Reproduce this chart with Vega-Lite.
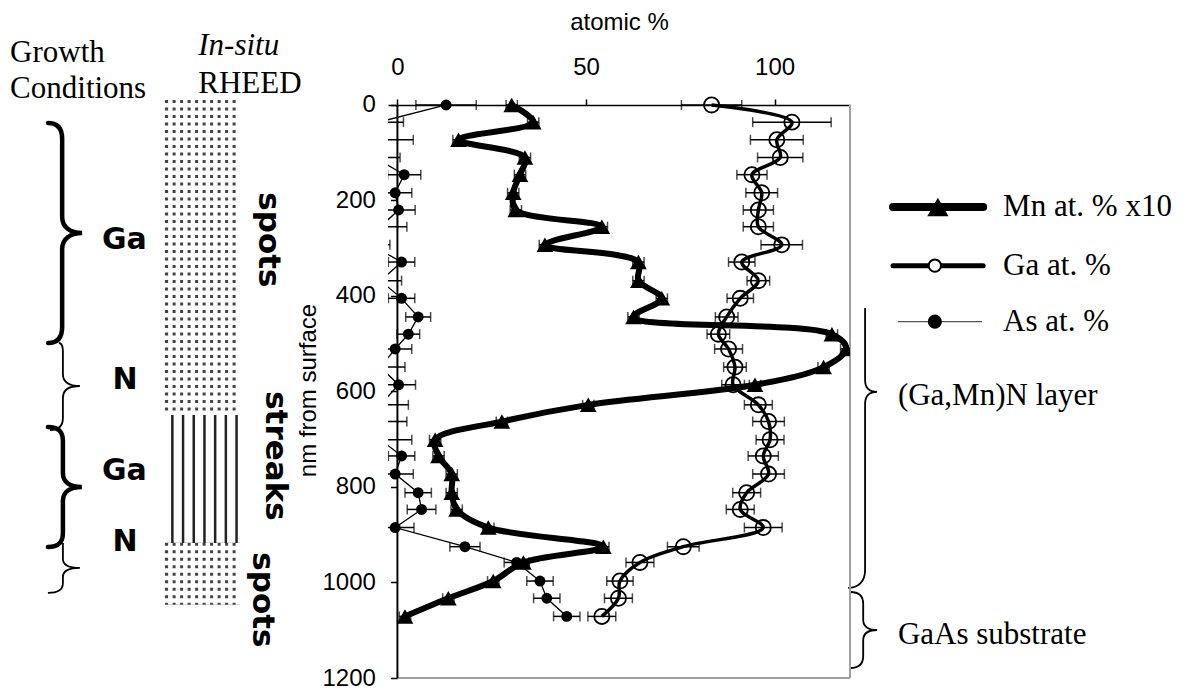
{
  "$schema": "https://vega.github.io/schema/vega-lite/v6.json",
  "width": 462,
  "height": 585,
  "autosize": "none",
  "padding": {"left": 388, "top": 93, "right": 339, "bottom": 17},
  "background": "white",
  "config": {"view": {"stroke": null}},
  "data": {"values": [{}]},
  "datasets": {
    "mn": [
      {"depth": 0, "value": 30.3, "err": 1.5}, {"depth": 36, "value": 36.0, "err": 1.5}, {"depth": 73, "value": 16.2, "err": 1.5},
      {"depth": 110, "value": 33.8, "err": 1.5}, {"depth": 146, "value": 32.5, "err": 1.5}, {"depth": 184, "value": 30.7, "err": 1.5},
      {"depth": 220, "value": 31.4, "err": 1.5}, {"depth": 255, "value": 54.2, "err": 1.5}, {"depth": 293, "value": 39.1, "err": 1.5},
      {"depth": 329, "value": 63.9, "err": 1.5}, {"depth": 368, "value": 63.9, "err": 1.5}, {"depth": 405, "value": 70.1, "err": 1.5},
      {"depth": 444, "value": 62.6, "err": 1.5}, {"depth": 480, "value": 115.2, "err": 1.5}, {"depth": 511, "value": 119, "err": 1.5},
      {"depth": 549, "value": 113, "err": 1.5}, {"depth": 586, "value": 94.8, "err": 1.5}, {"depth": 628, "value": 50.6, "err": 1.5},
      {"depth": 663, "value": 27.7, "err": 1.5}, {"depth": 701, "value": 10.0, "err": 1.5}, {"depth": 735, "value": 10.9, "err": 1.5},
      {"depth": 773, "value": 14.4, "err": 1.5}, {"depth": 812, "value": 14.4, "err": 1.5}, {"depth": 847, "value": 15.7, "err": 1.5},
      {"depth": 885, "value": 24.1, "err": 1.5}, {"depth": 925, "value": 54.6, "err": 1.5}, {"depth": 958, "value": 33.4, "err": 1.5},
      {"depth": 997, "value": 25.4, "err": 1.5}, {"depth": 1033, "value": 13.5, "err": 1.5}, {"depth": 1071, "value": 2.0, "err": 1.5}
    ],
    "ga": [
      {"depth": 0, "value": 83.3, "err": 8}, {"depth": 36, "value": 104.6, "err": 10.4}, {"depth": 73, "value": 100.6, "err": 7},
      {"depth": 110, "value": 101.5, "err": 6}, {"depth": 146, "value": 94, "err": 4}, {"depth": 184, "value": 96.6, "err": 4.2},
      {"depth": 220, "value": 95.7, "err": 4}, {"depth": 255, "value": 95.7, "err": 4}, {"depth": 293, "value": 101.9, "err": 5.5},
      {"depth": 329, "value": 91.3, "err": 3.5}, {"depth": 368, "value": 95.7, "err": 3}, {"depth": 405, "value": 90.9, "err": 3.5},
      {"depth": 444, "value": 87.3, "err": 3}, {"depth": 480, "value": 85.1, "err": 3}, {"depth": 511, "value": 87.8, "err": 3.7},
      {"depth": 549, "value": 89.5, "err": 3}, {"depth": 586, "value": 89, "err": 3}, {"depth": 628, "value": 95.7, "err": 3.7},
      {"depth": 663, "value": 98.4, "err": 4.2}, {"depth": 701, "value": 98.8, "err": 3.7}, {"depth": 735, "value": 97, "err": 4},
      {"depth": 773, "value": 98.4, "err": 4.2}, {"depth": 812, "value": 92.6, "err": 3.7}, {"depth": 847, "value": 90.9, "err": 3.7},
      {"depth": 885, "value": 97, "err": 5}, {"depth": 925, "value": 75.8, "err": 4.2}, {"depth": 958, "value": 64.3, "err": 3.7},
      {"depth": 997, "value": 59, "err": 3.5}, {"depth": 1033, "value": 58.6, "err": 3.7}, {"depth": 1071, "value": 54.2, "err": 3.7}
    ],
    "as": [
      {"depth": 0, "value": 12.9, "err": 8}, {"depth": 36, "value": -5, "err": 6.6}, {"depth": 73, "value": -4.5, "err": 8.7},
      {"depth": 110, "value": -6, "err": 6.7}, {"depth": 146, "value": 1.8, "err": 4.4}, {"depth": 184, "value": -0.6, "err": 4.4},
      {"depth": 220, "value": 0.3, "err": 4.4}, {"depth": 255, "value": -4.5, "err": 7}, {"depth": 293, "value": -7, "err": 5},
      {"depth": 329, "value": 1.1, "err": 3.5}, {"depth": 368, "value": -4.5, "err": 5.6}, {"depth": 405, "value": 1.1, "err": 3.5},
      {"depth": 444, "value": 5.5, "err": 3.3}, {"depth": 480, "value": 2.9, "err": 3}, {"depth": 511, "value": -0.6, "err": 4.4},
      {"depth": 549, "value": -4.5, "err": 6.5}, {"depth": 586, "value": 0.3, "err": 4.5}, {"depth": 628, "value": -4.5, "err": 7.4},
      {"depth": 663, "value": -5, "err": 7.5}, {"depth": 701, "value": -4.5, "err": 8.3}, {"depth": 735, "value": 1.1, "err": 3.5},
      {"depth": 773, "value": -0.6, "err": 4.8}, {"depth": 812, "value": 5.5, "err": 3.5}, {"depth": 847, "value": 6.4, "err": 3.8},
      {"depth": 885, "value": -0.6, "err": 5}, {"depth": 925, "value": 17.9, "err": 4}, {"depth": 958, "value": 31.6, "err": 3.3},
      {"depth": 997, "value": 37.8, "err": 3.5}, {"depth": 1033, "value": 39.6, "err": 3.5}, {"depth": 1071, "value": 44.9, "err": 3.5}
    ]
  },
  "layer": [
    {"data": {"name": "as"}, "mark": {"type": "errorbar", "ticks": true, "size": 10, "thickness": 1.5, "color": "black", "clip": true},
     "encoding": {
       "x": {"field": "value", "type": "quantitative", "title": "atomic %",
         "scale": {"domain": [-2.5, 120], "nice": false, "zero": false},
         "axis": {"orient": "top", "values": [0, 50, 100], "title": "atomic %", "offset": -12,
           "domainColor": "black", "domainWidth": 1.5, "tickColor": "black", "tickWidth": 1.5, "tickSize": 6,
           "labelFont": "Liberation Sans", "labelFontSize": 24, "labelColor": "black", "labelPadding": 20, "labelFlush": false,
           "titleFont": "Liberation Sans", "titleFontSize": 24, "titleFontWeight": "normal", "titleColor": "black", "titlePadding": 21, "grid": false}},
       "xError": {"field": "err"},
       "y": {"field": "depth", "type": "quantitative", "title": "nm from surface",
         "scale": {"domain": [-25, 1200], "reverse": true, "nice": false, "zero": false},
         "axis": {"orient": "left", "values": [0, 200, 400, 600, 800, 1000, 1200], "format": "d", "title": "nm from surface", "offset": -9.4,
           "domain": false, "tickColor": "black", "tickWidth": 1.5, "tickSize": 7,
           "labelFont": "Liberation Sans", "labelFontSize": 24, "labelColor": "black", "labelPadding": 15,
           "titleFont": "Liberation Sans", "titleFontSize": 24, "titleFontWeight": "normal", "titleColor": "black", "titlePadding": 2, "titleY": 297, "grid": false}}
     }},

    {"mark": {"type": "rule", "color": "#444444", "strokeWidth": 75, "strokeDash": [3, 4.5]},
     "encoding": {"x": {"datum": -51.7}, "y": {"datum": -10.5}, "y2": {"datum": 649.2}}},
    {"mark": {"type": "rule", "color": "white", "strokeWidth": 315, "strokeDash": [4.5, 3], "strokeDashOffset": 4.5},
     "encoding": {"x": {"datum": -61.6}, "x2": {"datum": -41.7}, "y": {"datum": 319.4}}},
    {"mark": {"type": "rule", "color": "#444444", "strokeWidth": 75, "strokeDash": [3, 4.5]},
     "encoding": {"x": {"datum": -51.7}, "y": {"datum": 917}, "y2": {"datum": 1046.8}}},
    {"mark": {"type": "rule", "color": "white", "strokeWidth": 62, "strokeDash": [4.5, 3], "strokeDashOffset": 4.5},
     "encoding": {"x": {"datum": -61.6}, "x2": {"datum": -41.7}, "y": {"datum": 981.9}}},
    {"mark": {"type": "rule", "color": "#222222", "strokeWidth": 128, "strokeDash": [2.5, 8.2], "strokeDashOffset": 4.7},
     "encoding": {"x": {"datum": -61.6}, "x2": {"datum": -41.7}, "y": {"datum": 783.2}}},

    {"mark": {"type": "point", "shape": "M -14 -110 C -4 -110 0 -104 0 -94 L 0 -16 C 0 -6 8 0 20 0 C 8 0 0 6 0 16 L 0 94 C 0 104 -4 110 -14 110", "size": 4, "filled": false, "stroke": "black", "strokeWidth": 4.5, "opacity": 1, "strokeCap": "round"},
     "encoding": {"x": {"datum": -88.9}, "y": {"datum": 268}}},
    {"mark": {"type": "point", "shape": "M -4 -43 C -1 -43 0 -40 0 -34 L 0 -12 C 0 -4 6 0 17 0 C 6 0 0 4 0 12 L 0 32 C 0 40 -4 44 -13 44", "size": 4, "filled": false, "stroke": "black", "strokeWidth": 1.8, "opacity": 1},
     "encoding": {"x": {"datum": -88.7}, "y": {"datum": 588.5}}},
    {"mark": {"type": "point", "shape": "M -15 -60 C -4 -60 0 -55 0 -46 L 0 -14 C 0 -5 7 0 19 0 C 7 0 0 5 0 14 L 0 46 C 0 55 -4 60 -15 60", "size": 4, "filled": false, "stroke": "black", "strokeWidth": 4.5, "opacity": 1, "strokeCap": "round"},
     "encoding": {"x": {"datum": -88.7}, "y": {"datum": 800}}},
    {"mark": {"type": "point", "shape": "M 0 -25 L 0 -9 C 0 -3 6 0 17 0 C 6 0 0 3 0 9 L 0 15 C 0 22 -5 25 -15 25", "size": 4, "filled": false, "stroke": "black", "strokeWidth": 1.8, "opacity": 1},
     "encoding": {"x": {"datum": -88.7}, "y": {"datum": 969.6}}},
    {"mark": {"type": "point", "shape": "M 0 -84 L 0 -12 C 0 -4 4 0 12 0 C 4 0 0 4 0 12 L 0 178 C 0 190 -7 196 -17 196", "size": 4, "filled": false, "stroke": "black", "strokeWidth": 1.8, "opacity": 1},
     "encoding": {"x": {"datum": 124.0}, "y": {"datum": 601}}},
    {"mark": {"type": "point", "shape": "M -13 -38 C -4 -38 0 -34 0 -26 L 0 -10 C 0 -3 6 0 14 0 C 6 0 0 3 0 10 L 0 26 C 0 34 -4 38 -13 38", "size": 4, "filled": false, "stroke": "black", "strokeWidth": 1.8, "opacity": 1},
     "encoding": {"x": {"datum": 123.5}, "y": {"datum": 1099.5}}},

    {"mark": {"type": "text", "text": "Growth", "font": "Liberation Serif", "fontSize": 31, "align": "left", "baseline": "alphabetic", "color": "black"},
     "encoding": {"x": {"datum": -102.7}, "y": {"datum": -90}}},
    {"mark": {"type": "text", "text": "Conditions", "font": "Liberation Serif", "fontSize": 31, "align": "left", "baseline": "alphabetic", "color": "black"},
     "encoding": {"x": {"datum": -102.7}, "y": {"datum": -14.7}}},
    {"mark": {"type": "text", "text": "In-situ", "font": "Liberation Serif", "fontStyle": "italic", "fontSize": 31, "align": "left", "baseline": "alphabetic", "color": "black"},
     "encoding": {"x": {"datum": -52.8}, "y": {"datum": -104.7}}},
    {"mark": {"type": "text", "text": "RHEED", "font": "Liberation Serif", "fontSize": 31, "align": "left", "baseline": "alphabetic", "color": "black"},
     "encoding": {"x": {"datum": -52.8}, "y": {"datum": -25.1}}},
    {"mark": {"type": "text", "text": "Ga", "font": "DejaVu Sans", "fontWeight": "bold", "fontSize": 30, "align": "center", "baseline": "middle", "color": "black"},
     "encoding": {"x": {"datum": -72.4}, "y": {"datum": 282.7}}},
    {"mark": {"type": "text", "text": "N", "font": "DejaVu Sans", "fontWeight": "bold", "fontSize": 30, "align": "center", "baseline": "middle", "color": "black"},
     "encoding": {"x": {"datum": -72.2}, "y": {"datum": 576}}},
    {"mark": {"type": "text", "text": "Ga", "font": "DejaVu Sans", "fontWeight": "bold", "fontSize": 30, "align": "center", "baseline": "middle", "color": "black"},
     "encoding": {"x": {"datum": -72.4}, "y": {"datum": 766.5}}},
    {"mark": {"type": "text", "text": "N", "font": "DejaVu Sans", "fontWeight": "bold", "fontSize": 30, "align": "center", "baseline": "middle", "color": "black"},
     "encoding": {"x": {"datum": -72.2}, "y": {"datum": 915}}},
    {"mark": {"type": "text", "text": "spots", "font": "DejaVu Sans", "fontWeight": "bold", "fontSize": 31, "angle": 90, "align": "center", "baseline": "middle", "color": "black"},
     "encoding": {"x": {"datum": -34.3}, "y": {"datum": 282.7}}},
    {"mark": {"type": "text", "text": "streaks", "font": "DejaVu Sans", "fontWeight": "bold", "fontSize": 31, "angle": 90, "align": "center", "baseline": "middle", "color": "black"},
     "encoding": {"x": {"datum": -32.5}, "y": {"datum": 735}}},
    {"mark": {"type": "text", "text": "spots", "font": "DejaVu Sans", "fontWeight": "bold", "fontSize": 31, "angle": 90, "align": "center", "baseline": "middle", "color": "black"},
     "encoding": {"x": {"datum": -35.9}, "y": {"datum": 1036.6}}},

    {"mark": {"type": "text", "text": "(Ga,Mn)N layer", "font": "Liberation Serif", "fontSize": 31, "align": "left", "baseline": "middle", "color": "black"},
     "encoding": {"x": {"datum": 132.7}, "y": {"datum": 610}}},
    {"mark": {"type": "text", "text": "GaAs substrate", "font": "Liberation Serif", "fontSize": 31, "align": "left", "baseline": "middle", "color": "black"},
     "encoding": {"x": {"datum": 132.7}, "y": {"datum": 1110}}},

    {"mark": {"type": "rule", "color": "black", "strokeWidth": 8, "strokeCap": "round"},
     "encoding": {"x": {"datum": 131.4}, "x2": {"datum": 155.3}, "y": {"datum": 213.6}}},
    {"mark": {"type": "point", "shape": "triangle-up", "size": 450, "filled": true, "color": "black", "opacity": 1},
     "encoding": {"x": {"datum": 143.3}, "y": {"datum": 213.6}}},
    {"mark": {"type": "text", "text": "Mn at. % x10", "font": "Liberation Serif", "fontSize": 31, "align": "left", "baseline": "middle", "color": "black"},
     "encoding": {"x": {"datum": 160.6}, "y": {"datum": 213.6}}},
    {"mark": {"type": "rule", "color": "black", "strokeWidth": 5, "strokeCap": "round"},
     "encoding": {"x": {"datum": 131.4}, "x2": {"datum": 155.3}, "y": {"datum": 336.5}}},
    {"mark": {"type": "point", "shape": "circle", "size": 150, "filled": true, "fill": "white", "stroke": "black", "strokeWidth": 2, "opacity": 1},
     "encoding": {"x": {"datum": 142.5}, "y": {"datum": 336.5}}},
    {"mark": {"type": "text", "text": "Ga at. %", "font": "Liberation Serif", "fontSize": 31, "align": "left", "baseline": "middle", "color": "black"},
     "encoding": {"x": {"datum": 160.6}, "y": {"datum": 336.5}}},
    {"mark": {"type": "rule", "color": "#555555", "strokeWidth": 1.3},
     "encoding": {"x": {"datum": 132.7}, "x2": {"datum": 155.0}, "y": {"datum": 453.8}}},
    {"mark": {"type": "point", "shape": "circle", "size": 200, "filled": true, "color": "black", "opacity": 1},
     "encoding": {"x": {"datum": 142.5}, "y": {"datum": 453.8}}},
    {"mark": {"type": "text", "text": "As at. %", "font": "Liberation Serif", "fontSize": 31, "align": "left", "baseline": "middle", "color": "black"},
     "encoding": {"x": {"datum": 160.6}, "y": {"datum": 453.8}}},

    {"mark": {"type": "rule", "color": "#a0a0a0", "strokeWidth": 2},
     "encoding": {"x": {"datum": 120}, "y": {"datum": 0}, "y2": {"datum": 1200}}},
    {"mark": {"type": "rule", "color": "#a0a0a0", "strokeWidth": 2},
     "encoding": {"x": {"datum": 0}, "x2": {"datum": 120}, "y": {"datum": 1200}}},
    {"mark": {"type": "rule", "color": "black", "strokeWidth": 2},
     "encoding": {"x": {"datum": 0}, "y": {"datum": 0}, "y2": {"datum": 1200}}},

    {"data": {"name": "as"}, "mark": {"type": "line", "color": "black", "strokeWidth": 1.3, "clip": true},
     "encoding": {"x": {"field": "value", "type": "quantitative", "title": "atomic %"}, "y": {"field": "depth", "type": "quantitative", "title": "nm from surface"}, "order": {"field": "depth", "type": "quantitative"}}},
    {"data": {"name": "as"}, "mark": {"type": "point", "shape": "circle", "size": 120, "filled": true, "color": "black", "opacity": 1, "clip": true},
     "encoding": {"x": {"field": "value", "type": "quantitative", "title": "atomic %"}, "y": {"field": "depth", "type": "quantitative", "title": "nm from surface"}}},

    {"data": {"name": "ga"}, "mark": {"type": "errorbar", "ticks": true, "size": 10, "thickness": 1.5, "color": "black", "clip": true},
     "encoding": {"x": {"field": "value", "type": "quantitative", "title": "atomic %"}, "xError": {"field": "err"}, "y": {"field": "depth", "type": "quantitative", "title": "nm from surface"}}},
    {"data": {"name": "ga"}, "mark": {"type": "line", "color": "black", "strokeWidth": 3.5, "interpolate": "catmull-rom", "clip": true},
     "encoding": {"x": {"field": "value", "type": "quantitative", "title": "atomic %"}, "y": {"field": "depth", "type": "quantitative", "title": "nm from surface"}, "order": {"field": "depth", "type": "quantitative"}}},
    {"data": {"name": "ga"}, "mark": {"type": "point", "shape": "circle", "size": 230, "filled": false, "stroke": "black", "strokeWidth": 1.8, "opacity": 1, "clip": true},
     "encoding": {"x": {"field": "value", "type": "quantitative", "title": "atomic %"}, "y": {"field": "depth", "type": "quantitative", "title": "nm from surface"}}},

    {"data": {"name": "mn"}, "mark": {"type": "errorbar", "ticks": true, "size": 10, "thickness": 1.5, "color": "black", "clip": true},
     "encoding": {"x": {"field": "value", "type": "quantitative", "title": "atomic %"}, "xError": {"field": "err"}, "y": {"field": "depth", "type": "quantitative", "title": "nm from surface"}}},
    {"data": {"name": "mn"}, "mark": {"type": "line", "color": "black", "strokeWidth": 6, "interpolate": "catmull-rom", "clip": true},
     "encoding": {"x": {"field": "value", "type": "quantitative", "title": "atomic %"}, "y": {"field": "depth", "type": "quantitative", "title": "nm from surface"}, "order": {"field": "depth", "type": "quantitative"}}},
    {"data": {"name": "mn"}, "mark": {"type": "point", "shape": "triangle-up", "size": 280, "filled": true, "color": "black", "opacity": 1, "clip": true},
     "encoding": {"x": {"field": "value", "type": "quantitative", "title": "atomic %"}, "y": {"field": "depth", "type": "quantitative", "title": "nm from surface"}}}
  ]
}
